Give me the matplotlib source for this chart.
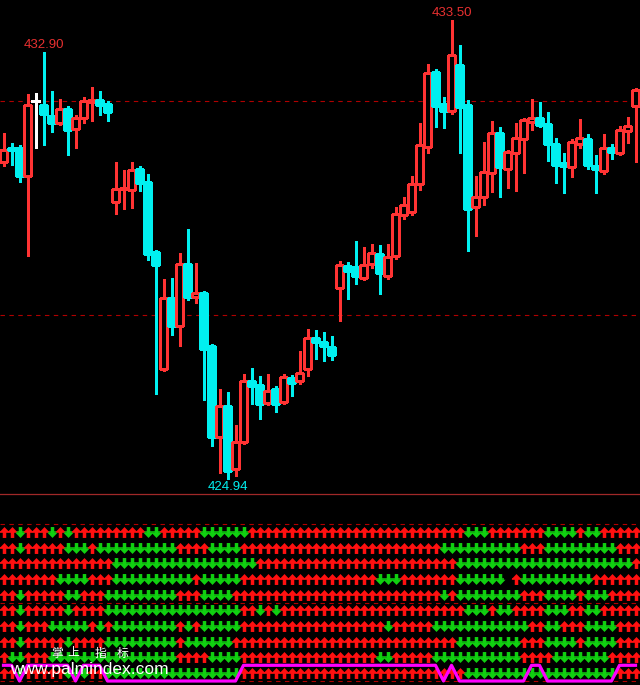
import numpy as np
import matplotlib.pyplot as plt
from matplotlib.patches import Rectangle

# candle data (one per bar, left to right)
opens = [430.86, 431.12, 431.12, 430.60, 432.00, 431.93, 431.72, 431.59, 431.85, 431.48,
         431.68, 431.98, 432.02, 431.95, 430.11, 430.36, 430.33, 430.73, 430.48, 429.17,
         426.98, 428.31, 427.79, 428.95, 428.33, 428.41, 427.41, 425.71, 426.29, 425.11,
         425.61, 426.76, 426.68, 426.34, 426.61, 426.36, 426.81, 426.76, 426.98, 427.56,
         427.49, 427.39, 428.50, 428.91, 428.89, 428.69, 428.95, 429.14, 428.72, 429.10,
         429.87, 429.92, 430.45, 431.14, 432.54, 431.95, 431.81, 432.68, 431.93, 430.02,
         430.20, 430.65, 431.40, 430.73, 431.03, 431.29, 431.61, 431.68, 431.57, 431.20,
         430.84, 430.77, 431.20, 431.29, 430.78, 430.69, 431.12, 431.03, 431.44, 431.91]
highs = [431.38, 431.20, 431.16, 432.11, 432.13, 432.90, 432.17, 432.02, 431.89, 431.72,
         432.06, 432.25, 432.17, 431.98, 430.84, 430.69, 430.84, 430.77, 430.62, 429.19,
         428.65, 428.67, 429.14, 429.59, 428.95, 428.42, 427.43, 426.59, 426.53, 425.91,
         426.87, 426.98, 426.83, 426.87, 426.64, 426.87, 426.85, 427.30, 427.71, 427.69,
         427.66, 427.58, 428.99, 428.97, 429.36, 429.25, 429.30, 429.29, 429.30, 430.00,
         430.18, 430.58, 431.57, 432.68, 432.58, 432.06, 433.50, 433.03, 432.00, 430.58,
         431.22, 431.61, 431.50, 431.07, 431.57, 431.66, 432.02, 431.96, 431.78, 431.29,
         431.01, 431.27, 431.65, 431.36, 430.97, 431.36, 431.18, 431.51, 431.68, 432.23]
lows = [430.80, 430.82, 430.50, 429.12, 431.14, 431.20, 431.44, 431.57, 431.01, 431.14,
        431.61, 431.65, 431.76, 431.65, 429.90, 430.00, 430.02, 430.33, 429.04, 426.53,
        426.96, 427.64, 427.43, 428.29, 428.24, 426.42, 425.56, 425.05, 424.94, 425.00,
        425.60, 426.34, 426.06, 426.33, 426.19, 426.34, 426.49, 426.72, 426.87, 427.19,
        427.15, 427.17, 427.90, 428.31, 428.59, 428.67, 428.89, 428.41, 428.69, 429.06,
        429.81, 429.89, 430.35, 431.05, 431.53, 431.51, 431.78, 431.05, 429.21, 429.49,
        430.07, 430.32, 430.22, 430.39, 430.33, 430.67, 431.48, 431.53, 430.90, 430.48,
        430.30, 430.60, 431.14, 430.75, 430.30, 430.65, 430.93, 431.01, 431.23, 430.88]
closes = [431.08, 431.08, 430.60, 431.93, 432.00, 431.76, 431.59, 431.85, 431.46, 431.68,
          432.00, 432.02, 431.93, 431.80, 430.35, 430.38, 430.71, 430.47, 429.14, 428.93,
          428.31, 427.79, 428.95, 428.33, 428.41, 427.36, 425.71, 426.29, 425.07, 425.61,
          426.76, 426.66, 426.33, 426.57, 426.33, 426.83, 426.72, 426.91, 427.56, 427.49,
          427.41, 427.24, 428.93, 428.82, 428.72, 428.93, 429.15, 428.78, 429.08, 429.89,
          430.05, 430.45, 431.18, 432.53, 431.91, 431.81, 432.86, 431.89, 429.98, 430.20,
          430.67, 431.40, 430.77, 431.05, 431.31, 431.65, 431.68, 431.55, 431.20, 430.80,
          430.78, 431.23, 431.31, 430.80, 430.73, 431.12, 431.05, 431.46, 431.53, 432.21]

ref_levels = [432.0, 428.0]
high_label_bars = [5, 56]
low_label_bars = [28]

# signal rows: U = up arrow, D = down arrow, space = no value
signal_rows = [
    "UUDUUUDUDUUUUUUUUUDD" + "UUUUUDDDDDDUUUUUUUUU" + "U" * 18 + "DD" + "DUUUUUUUDDDDUDDUUUUU",
    "UUDUUUUUDDDUDDDDDDDD" + "DDUUUUDDDDUUUUUUUUUU" + "U" * 15 + "D" * 5 + "DDDDDUUUDDDDDDDDDUUU",
    "U" * 14 + "D" * 6 + "D" * 12 + "U" * 8 + "U" * 17 + "D" * 3 + "D" * 19 + "U",
    "UUUUUUUDDDDUUUDDDDDD" + "DDDDUDDDDD" + "U" * 10 + "UUUUUUUDDDUUUUUUUDDD" + "DDD UDDDDDDDDDUUUUUU",
    "UUDUUUUUDDUUUDDDDDDD" + "DDUUUDDDD" + "U" * 11 + "U" * 15 + "DUDDD" + "DDDDDUUUDDDDUDDDUUUU",
    "UUDUUUUUDUUUUDDDDDDD" + "D" * 10 + "UUDUD" + "U" * 5 + "U" * 18 + "DD" + "DUDDUUUUDDDUUDDUUUUU",
    "UUDUUUDDDDDUDUDDDDDD" + "DDUDUDDDDD" + "U" * 10 + "U" * 8 + "D" + "U" * 5 + "D" * 6 + "DDDDDDUUDDUUUDDDDUUU",
    "UUDUUUUUDUUUUDDDDDDD" + "DDUDDDDDD" + "U" * 11 + "U" * 17 + "DDD" + "DDDDDUUUDDDDUDDDDUUU",
    "UDDUUU" + "D" * 14 + "DDUUUUDDDD" + "U" * 10 + "U" * 7 + "DD" + "U" * 5 + "D" * 6 + "DDDDDUUUUDDDDDDDUUUU",
    "UUDUUUUUDDDUUDDDDDDD" + "D" * 10 + "U" * 10 + "U" * 18 + "DD" + "D" * 17 + "UUU",
]
row_levels = [95, 85, 75, 65, 55, 45, 35, 25, 15, 5]

# pink state line: H = 10, L = 0
state = "HHLHHHHHHLHHH" + "L" * 17 + "H" * 25 + "LH" + "L" * 9 + "HH" + "L" * 9 + "HHH"

red = "#ff3333"
cyan = "#00f0f0"
dash_red = "#b00000"
arrow_red = "#ff1010"
arrow_green = "#10d010"
n = len(opens)

fig = plt.figure(figsize=(6.4, 6.85), dpi=100, facecolor="black")
ax = fig.add_axes([0, 192 / 685, 1, 493 / 685])
ax2 = fig.add_axes([0, 0, 1, 192 / 685])
for a in (ax, ax2):
    a.set_facecolor("black")
    a.set_xlim(-0.4375, 79.5625)
    a.axis("off")
ax.set_ylim(424.659, 433.893)
ax2.set_ylim(-2.55, 119.75)

# candles
for i in range(n):
    o, h, l, c = opens[i], highs[i], lows[i], closes[i]
    top, bot = max(o, c), min(o, c)
    if c > o:
        col = red
    elif c < o:
        col = cyan
    else:
        col = "white"
    ax.plot([i, i], [top, h], color=col, lw=0.8, antialiased=False)
    ax.plot([i, i], [l, bot], color=col, lw=0.8, antialiased=False)
    if c > o:
        ax.add_patch(Rectangle((i - 0.4375, bot), 0.875, top - bot, facecolor="black",
                               edgecolor=col, lw=0.8, antialiased=False, zorder=3))
    elif c < o:
        ax.add_patch(Rectangle((i - 0.4375, bot), 0.875, top - bot, facecolor=col,
                               edgecolor=col, lw=0.8, antialiased=False, zorder=3))
    else:
        ax.plot([i - 0.4375, i + 0.4375], [o, o], color=col, lw=0.8, antialiased=False)

for lv in ref_levels:
    ax.axhline(lv, color=dash_red, lw=0.8, linestyle=(0, (4, 4)), zorder=1)

for i in high_label_bars:
    ax.annotate(f"{highs[i]:.2f}", xy=(i, highs[i]), xytext=(0, 8), textcoords="offset pixels",
                ha="center", va="center", color="#e83030", fontsize=9.5, family="Liberation Sans")
for i in low_label_bars:
    ax.annotate(f"{lows[i]:.2f}", xy=(i, lows[i]), xytext=(0, -9), textcoords="offset pixels",
                ha="center", va="center", color=cyan, fontsize=9.5, family="Liberation Sans")

# lower panel
ax2.axhline(119.4, color="#a02828", lw=0.9, clip_on=False)
for lv in [0, 50, 100]:
    ax2.axhline(lv, color=dash_red, lw=0.8, linestyle=(0, (4, 4)), zorder=1)

up_marker = [(-0.16, -0.5), (0.16, -0.5), (0.16, 0.02), (0.46, 0.02), (0, 0.5), (-0.46, 0.02), (-0.16, 0.02)]
down_marker = [(x, -y) for x, y in up_marker]

for row, lv in zip(signal_rows, row_levels):
    xs_up = np.array([i for i, s in enumerate(row) if s == "U"])
    xs_dn = np.array([i for i, s in enumerate(row) if s == "D"])
    ax2.hlines([lv] * len(xs_up), xs_up - 0.5, xs_up + 0.5, colors=arrow_red, lw=1.1)
    ax2.hlines([lv] * len(xs_dn), xs_dn - 0.5, xs_dn + 0.5, colors=arrow_green, lw=1.1)
    ax2.scatter(xs_up, [lv] * len(xs_up), marker=up_marker, s=62, color=arrow_red, linewidths=0, zorder=3)
    ax2.scatter(xs_dn, [lv] * len(xs_dn), marker=down_marker, s=62, color=arrow_green, linewidths=0, zorder=3)

state_vals = [10 if s == "H" else 0 for s in state]
ax2.plot(np.arange(n), state_vals, color="#ff00ff", lw=2.3, zorder=4, clip_on=False)

for ch, px in zip(["掌", "上", "指", "标"], [57, 73, 101, 123]):
    fig.text(px / 640, 1 - 653 / 685, ch, color="white", fontsize=8.5, ha="center", va="center",
             family=["Noto Sans CJK SC", "DejaVu Sans"], zorder=6)
fig.text(10 / 640, 1 - 674 / 685, "www.palmindex.com", color="white", fontsize=12.5,
         ha="left", va="baseline", family="Liberation Sans", zorder=6)

plt.savefig("out.png", dpi=100, facecolor="black")
